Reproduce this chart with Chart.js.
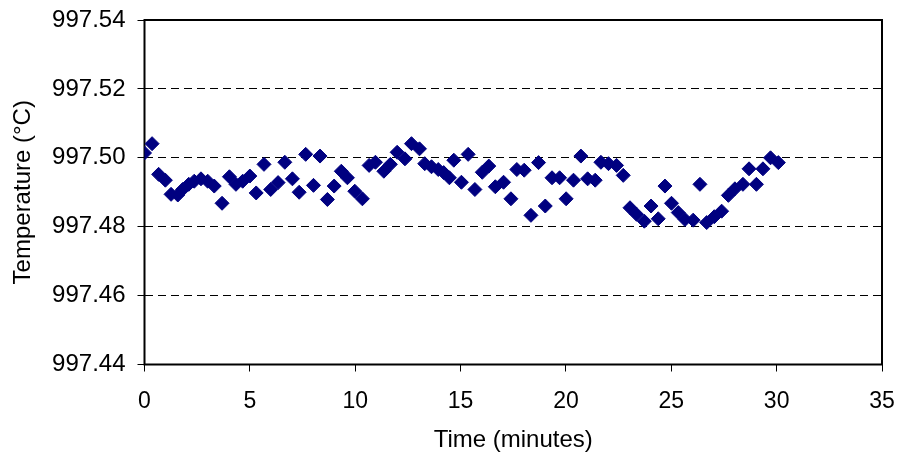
<!DOCTYPE html>
<html>
<head>
<meta charset="utf-8">
<script src="https://cdn.jsdelivr.net/npm/chart.js@4"></script>
<style>
  html, body { margin: 0; padding: 0; background: #fff; }
  #wrap { width: 898px; height: 458px; }
</style>
</head>
<body>
<div id="wrap"><canvas id="graphCanvas" width="898" height="458"></canvas></div>
<script>
// time in minutes and temperature readings
const times = [
  0.00, 0.36, 0.67, 0.99, 1.26, 1.58, 1.81, 2.10, 2.36, 2.68,
  3.00, 3.31, 3.68, 4.03, 4.34, 4.66, 5.00, 5.30, 5.67, 5.99,
  6.34, 6.66, 7.02, 7.34, 7.65, 8.02, 8.33, 8.68, 9.00, 9.34,
  9.63, 9.98, 10.34, 10.66, 10.96, 11.36, 11.67, 11.99, 12.36, 12.67,
  13.05, 13.30, 13.62, 13.94, 14.20, 14.47, 14.68, 15.04, 15.36, 15.68,
  16.03, 16.34, 16.65, 17.04, 17.39, 17.67, 18.02, 18.34, 18.70, 19.02,
  19.34, 19.70, 20.01, 20.36, 20.71, 21.03, 21.39, 21.66, 22.02, 22.40,
  22.72, 23.04, 23.35, 23.72, 24.04, 24.38, 24.70, 25.01, 25.33, 25.65,
  26.04, 26.36, 26.68, 27.04, 27.39, 27.71, 28.02, 28.40, 28.69, 29.04,
  29.35, 29.71, 30.08
];
const temps = [
  997.5014, 997.5041, 997.4952, 997.4935, 997.4894, 997.4892, 997.4908, 997.4923, 997.4932, 997.4939,
  997.4932, 997.4918, 997.4868, 997.4945, 997.4923, 997.4932, 997.4947, 997.4898, 997.4981, 997.4908,
  997.4928, 997.4987, 997.4939, 997.4900, 997.5010, 997.4920, 997.5005, 997.4879, 997.4918, 997.4961,
  997.4942, 997.4903, 997.4881, 997.4978, 997.4987, 997.4961, 997.4981, 997.5016, 997.4997, 997.5041,
  997.5026, 997.4983, 997.4974, 997.4966, 997.4957, 997.4942, 997.4993, 997.4929, 997.5010, 997.4908,
  997.4958, 997.4976, 997.4916, 997.4929, 997.4881, 997.4966, 997.4964, 997.4833, 997.4986, 997.4860,
  997.4942, 997.4942, 997.4881, 997.4935, 997.5005, 997.4939, 997.4935, 997.4987, 997.4983, 997.4978,
  997.4949, 997.4855, 997.4836, 997.4816, 997.4860, 997.4823, 997.4918, 997.4868, 997.4841, 997.4821,
  997.4819, 997.4923, 997.4812, 997.4829, 997.4845, 997.4891, 997.4910, 997.4923, 997.4968, 997.4923,
  997.4968, 997.5000, 997.4986
];
const xTicks = [0, 5, 10, 15, 20, 25, 30, 35];
const yTicks = [997.44, 997.46, 997.48, 997.50, 997.52, 997.54];

const points = times.map((t, i) => ({ x: t, y: temps[i] }));

// black box round the plot area
const frame = {
  id: 'frame',
  beforeDatasetsDraw(chart) {
    const a = chart.chartArea;
    const c = chart.ctx;
    c.save();
    c.strokeStyle = '#000';
    c.lineWidth = 2;
    c.setLineDash([]);
    c.strokeRect(a.left, a.top, a.right - a.left, a.bottom - a.top);
    c.restore();
  }
};

const ctx = document.getElementById('graphCanvas');
new Chart(ctx, {
  type: 'scatter',
  data: {
    datasets: [{
      label: 'Temperature',
      data: points,
      pointStyle: 'rectRot',
      pointRadius: 7,
      pointHoverRadius: 7,
      borderWidth: 1,
      backgroundColor: '#000080',
      borderColor: '#000080'
    }]
  },
  options: {
    responsive: false,
    animation: false,
    events: [],
    layout: { padding: { left: 0, right: 16, top: 20, bottom: 0 } },
    plugins: {
      legend: { display: false },
      tooltip: { enabled: false }
    },
    scales: {
      x: {
        type: 'linear',
        min: 0,
        max: 35,
        afterFit(scale) {
          scale.height = 93.5;
          scale.paddingLeft = 0;
          scale.paddingRight = 0;
        },
        afterBuildTicks(scale) { scale.ticks = xTicks.map(v => ({ value: v })); },
        grid: {
          drawOnChartArea: false,
          drawTicks: true,
          tickLength: 7,
          tickColor: '#000',
          tickWidth: 1
        },
        border: { display: false },
        ticks: {
          color: '#000',
          padding: 16,
          maxRotation: 0,
          font: { family: 'Liberation Sans, Arial, sans-serif', size: 23 }
        },
        title: {
          display: true,
          text: 'Time (minutes)',
          color: '#000',
          padding: { top: 0, bottom: 3 },
          font: { family: 'Liberation Sans, Arial, sans-serif', size: 24 }
        }
      },
      y: {
        min: 997.44,
        max: 997.54,
        afterFit(scale) {
          scale.width = 144.5;
          scale.paddingTop = 0;
          scale.paddingBottom = 0;
        },
        afterBuildTicks(scale) { scale.ticks = yTicks.map(v => ({ value: v })); },
        grid: {
          color: '#000',
          lineWidth: 1,
          tickLength: 7,
          tickColor: '#000',
          tickWidth: 1,
          tickBorderDash: []
        },
        border: { display: false, dash: [8, 5] },
        ticks: {
          color: '#000',
          padding: 12,
          font: { family: 'Liberation Sans, Arial, sans-serif', size: 24 },
          callback: v => v.toFixed(2)
        },
        title: {
          display: true,
          text: 'Temperature (°C)',
          color: '#000',
          padding: { top: 9, bottom: 0 },
          font: { family: 'Liberation Sans, Arial, sans-serif', size: 24 }
        }
      }
    }
  },
  plugins: [frame]
});
</script>
</body>
</html>
